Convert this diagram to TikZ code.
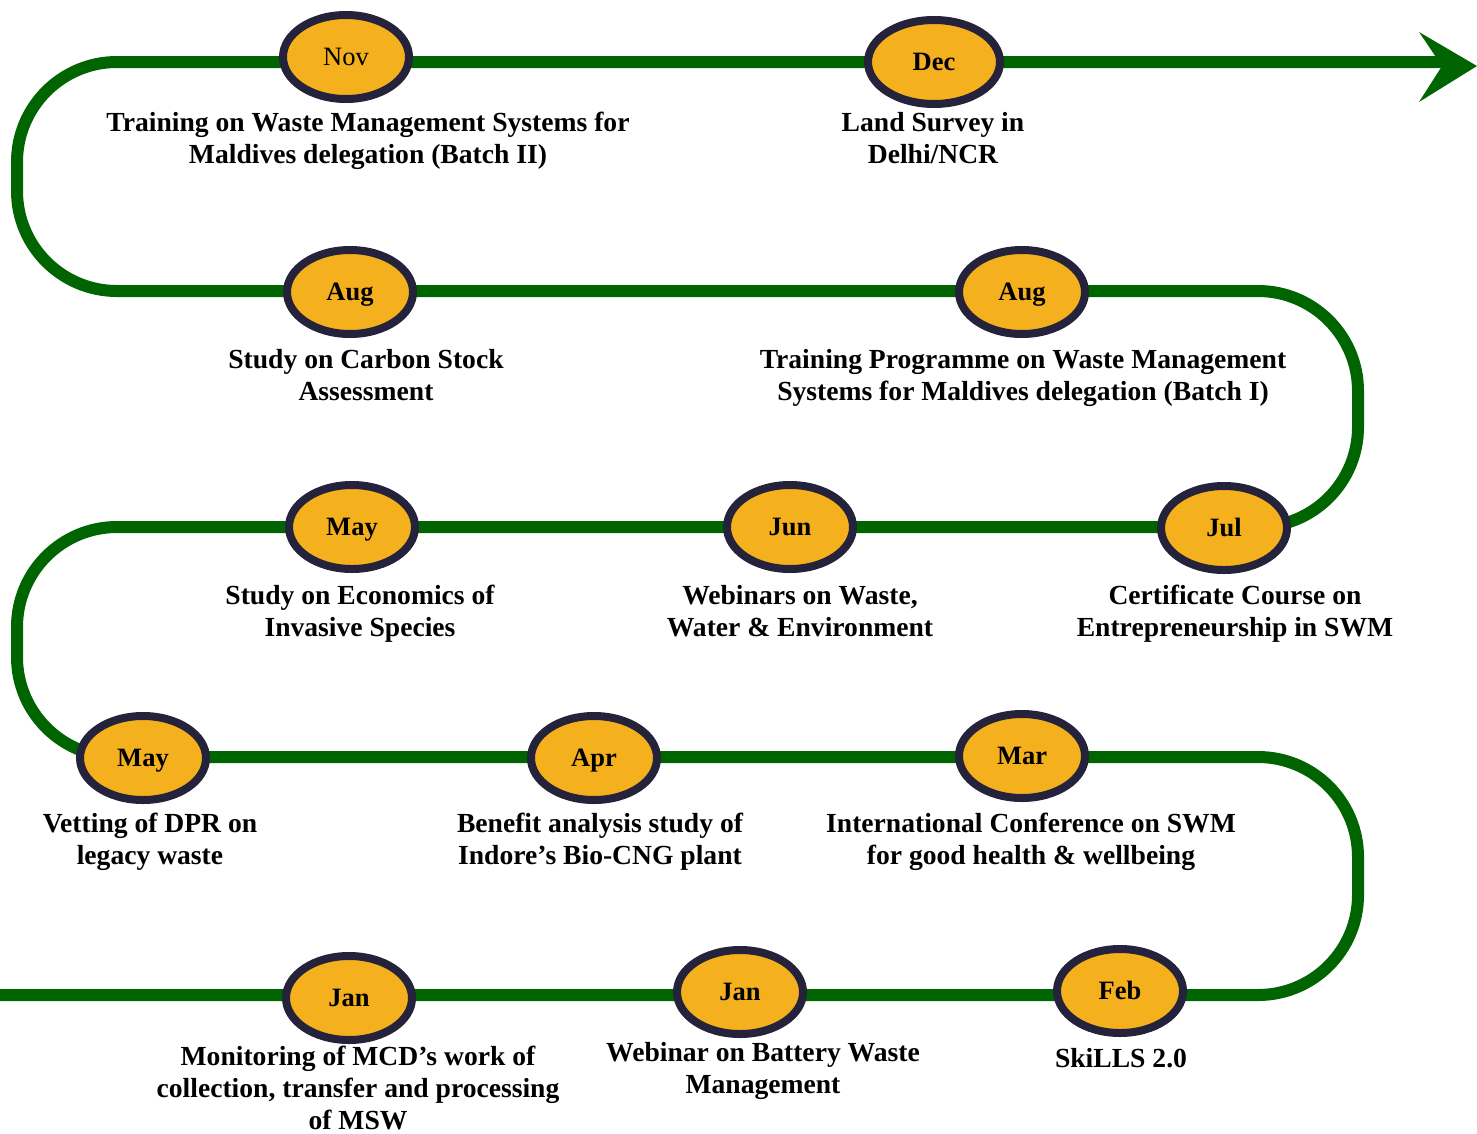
\documentclass[tikz,border=0pt]{standalone}
\usepackage{fontspec}
\setmainfont{Liberation Serif}
\usetikzlibrary{shapes.geometric}
\definecolor{pathgreen}{RGB}{0,100,0}
\definecolor{monthfill}{RGB}{245,176,30}
\definecolor{monthborder}{RGB}{36,35,59}
\begin{document}
\begin{tikzpicture}[x=1pt,y=-1pt,
  month/.style={ellipse, draw=monthborder, fill=monthfill, line width=8pt,
    minimum width=126pt, minimum height=84pt, inner sep=0pt,
    text height=17.4pt, text depth=0pt,
    font=\fontsize{26.5}{30}\selectfont\bfseries},
  desc/.style={align=center, inner sep=0pt,
    font=\fontsize{27.6}{32}\selectfont\bfseries},
  track/.style={draw=pathgreen, line width=12pt, rounded corners=100pt}]
\useasboundingbox (0,0) rectangle (1477,1133);
% track corners
\coordinate (s0) at (0,995);
\coordinate (c1) at (1358,995);
\coordinate (c2) at (1358,757);
\coordinate (c3) at (17,757);
\coordinate (c4) at (17,527);
\coordinate (c5) at (1358,527);
\coordinate (c6) at (1358,291);
\coordinate (c7) at (17,291);
\coordinate (c8) at (17,62);
\coordinate (e0) at (1442,62);
\draw[track] (s0) -- (c1) -- (c2) -- (c3) -- (c4) -- (c5) -- (c6) -- (c7) -- (c8) -- (e0);
\coordinate (tip) at (1477,66);
\fill[pathgreen] (tip) -- (1419,32) -- (1442,66) -- (1419,102) -- cycle;
% months
\node[month, font=\fontsize{26.5}{30}\selectfont] (nov) at (346,57) {Nov};
\node[month, minimum width=132pt] (dec) at (934,62) {Dec};
\node[month] (aug1) at (350,292) {Aug};
\node[month] (aug2) at (1022,292) {Aug};
\node[month] (may1) at (352,527) {May};
\node[month] (jun) at (790,527) {Jun};
\node[month] (jul) at (1224,528) {Jul};
\node[month] (may2) at (143,758) {May};
\node[month] (apr) at (594,758) {Apr};
\node[month] (mar) at (1022,756) {Mar};
\node[month] (jan1) at (349,998) {Jan};
\node[month] (jan2) at (740,992) {Jan};
\node[month] (feb) at (1120,991) {Feb};
% descriptions
\node[desc] (tnov) at (368,141) {Training on Waste Management Systems for\\Maldives delegation (Batch II)};
\node[desc] (tdec) at (933,138) {Land Survey in\\Delhi/NCR};
\node[desc] (taug1) at (366,375) {Study on Carbon Stock\\Assessment};
\node[desc] (taug2) at (1023,378) {Training Programme on Waste Management\\Systems for Maldives delegation (Batch I)};
\node[desc] (tmay1) at (360,614) {Study on Economics of\\Invasive Species};
\node[desc] (tjun) at (800,611) {Webinars on Waste,\\Water \& Environment};
\node[desc] (tjul) at (1235,614) {Certificate Course on\\Entrepreneurship in SWM};
\node[desc] (tmay2) at (150,842) {Vetting of DPR on\\legacy waste};
\node[desc] (tapr) at (600,842) {Benefit analysis study of\\Indore’s Bio-CNG plant};
\node[desc] (tmar) at (1031,842) {International Conference on SWM\\for good health \& wellbeing};
\node[desc] (tjan1) at (358,1088) {Monitoring of MCD’s work of\\collection, transfer and processing\\of MSW};
\node[desc] (tjan2) at (763,1071) {Webinar on Battery Waste\\Management};
\node[desc] (tfeb) at (1121,1058) {SkiLLS 2.0};
\end{tikzpicture}
\end{document}
